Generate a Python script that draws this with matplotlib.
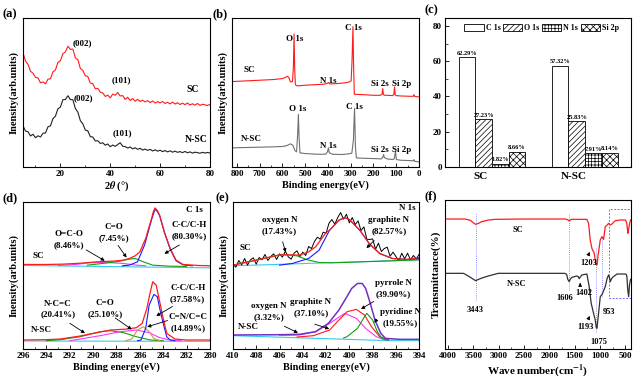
import numpy as np
import matplotlib.pyplot as plt
from matplotlib.patches import Rectangle, Patch

plt.rcParams['font.family'] = ['Liberation Serif', 'DejaVu Serif']
plt.rcParams['font.weight'] = 'bold'
plt.rcParams['axes.labelweight'] = 'bold'
plt.rcParams['mathtext.fontset'] = 'stix'
plt.rcParams['hatch.linewidth'] = 0.5
plt.rcParams['xtick.direction'] = 'in'
plt.rcParams['ytick.direction'] = 'in'
plt.rcParams['xtick.labelsize'] = 6.5
plt.rcParams['ytick.labelsize'] = 6.5
plt.rcParams['axes.linewidth'] = 0.8

# (a) XRD, 5..80 deg in 1 deg steps
xrd_sc = [76.5, 71.0, 68.8, 64.2, 62.9, 60.1, 59.8, 56.4, 57.1, 55.8,
          58.9, 59.2, 63.8, 65.1, 70.2, 71.3, 76.0, 77.2, 81.0, 78.9,
          79.1, 73.2, 72.0, 66.1, 64.8, 61.2, 60.7, 56.3, 55.9, 52.4,
          52.8, 50.2, 49.6, 47.3, 48.2, 46.4, 48.9, 48.1, 50.0, 47.6,
          47.9, 45.3, 46.8, 44.6, 45.9, 44.1, 45.4, 43.9, 44.8, 43.6,
          44.5, 43.2, 44.3, 42.9, 43.8, 43.0, 43.9, 42.6, 43.4, 42.3,
          43.5, 42.2, 43.1, 41.9, 42.8, 41.8, 42.9, 41.6, 42.4, 41.5,
          42.6, 41.3, 42.1, 41.7, 41.2, 42.0]
xrd_nsc = [27.5, 24.1, 23.6, 20.8, 21.9, 19.6, 20.9, 20.1, 22.6, 22.8,
           26.9, 27.6, 32.4, 34.1, 39.0, 40.2, 45.1, 45.3, 47.8, 45.2,
           45.1, 39.2, 36.8, 31.1, 28.9, 24.7, 24.2, 20.3, 20.1, 17.4,
           17.6, 15.8, 16.2, 14.6, 15.4, 13.6, 14.7, 13.8, 15.1, 16.2,
           13.9, 13.6, 12.7, 13.4, 12.1, 12.9, 11.8, 12.5, 11.3, 12.0,
           11.1, 11.8, 10.7, 11.5, 10.6, 11.2, 10.3, 11.0, 10.1, 10.8,
           9.9, 10.6, 9.8, 10.3, 9.6, 10.4, 9.5, 10.1, 9.3, 9.9,
           9.6, 9.2, 9.8, 9.3, 9.7, 9.4]
two_theta = np.arange(5, 5 + len(xrd_sc))

# (b) XPS survey
surv_sc_e = [822, 760, 700, 640, 600, 585, 578, 572, 565, 556, 552, 549, 546, 543, 535, 500,
             450, 420, 405, 398, 392, 360, 330, 318, 305, 298, 294, 290, 287, 284, 280, 250,
             200, 170, 162, 159, 156, 152, 140, 115, 110, 107, 104, 100, 80, 40, 25, 22, 19, 10, 0]
surv_sc_i = [255, 257, 259, 261, 264, 268, 271, 267, 254, 255, 297, 397, 287, 245, 242, 244,
             246, 247, 249, 252, 248, 249, 251, 252, 254, 257, 317, 419, 297, 217, 217, 216,
             214, 214, 217, 234, 217, 214, 214, 213, 217, 239, 215, 213, 212, 211, 211, 216, 211, 210, 209]
surv_nsc_e = [822, 760, 700, 640, 600, 580, 565, 555, 545, 538, 533, 530, 527, 523, 500, 450,
              410, 402, 398, 394, 380, 340, 310, 295, 288, 283, 279, 275, 250, 200, 165, 158,
              155, 152, 140, 115, 108, 103, 99, 80, 40, 25, 22, 19, 10, 0]
surv_nsc_i = [57, 58, 59, 60, 61, 64, 69, 65, 49, 45, 100, 157, 90, 42, 40, 38,
              38, 45, 57, 42, 38, 37, 39, 41, 80, 175, 60, 27, 26, 25, 24, 30,
              37, 28, 24, 22, 25, 47, 22, 20, 19, 18, 22, 17, 16, 15]

# (c) surface composition
samples = ['SC', 'N-SC']
elements = ['C 1s', 'O 1s', 'N 1s', 'Si 2p']
content = {'C 1s': [62.29, 57.32], 'O 1s': [27.23, 25.83],
           'N 1s': [1.82, 7.91], 'Si 2p': [8.66, 8.14]}

# (d) C 1s
c1s_sc_fit_e = [296, 294, 292.6, 291, 289.7, 288.3, 287.4, 286.9, 286.4, 286.0, 285.5, 285.0,
                284.85, 284.7, 284.5, 284.3, 283.9, 283.4, 282.9, 282.3, 281, 280]
c1s_sc_fit_i = [254, 254, 255, 258, 262, 264, 267, 272, 280, 292, 332, 392,
                412, 424, 416, 402, 352, 302, 267, 254, 251, 250]
c1s_sc_cc_e = [287.5, 286.9, 286.2, 285.6, 285.0, 284.7, 284.5, 284.3, 283.9, 283.4, 282.9, 282.3, 281.5]
c1s_sc_cc_i = [250, 252, 262, 312, 388, 420, 413, 400, 350, 300, 265, 253, 250]
c1s_sc_co_e = [290.5, 289.7, 288.0, 286.9, 286.4, 285.7, 284.9, 283.5, 282]
c1s_sc_co_i = [252, 255, 262, 270, 272, 262, 252, 249, 248]
c1s_sc_oco_e = [293, 291.5, 290.3, 288.8, 287.4, 286.3, 285.5]
c1s_sc_oco_i = [251, 254, 259, 260, 257, 252, 250]
c1s_sc_bg_e = [296, 280]
c1s_sc_bg_i = [251, 244]

c1s_nsc_fit_e = [296, 294, 292.8, 291.1, 290.0, 288.5, 287.1, 286.3, 285.8, 285.4, 285.1, 284.9,
                 284.6, 284.3, 284.0, 283.7, 283.0, 282, 280]
c1s_nsc_fit_i = [27, 28, 30, 39, 47, 57, 60, 64, 77, 122, 172, 202, 192, 142, 92, 47, 30, 27, 27]
c1s_nsc_cc_e = [286.2, 285.9, 285.5, 285.2, 284.8, 284.5, 284.3, 284.0, 283.7, 283.4, 283.0]
c1s_nsc_cc_i = [25, 27, 62, 132, 164, 157, 122, 77, 37, 27, 25]
c1s_nsc_cn_e = [287.2, 286.7, 286.2, 285.7, 285.2, 284.8, 284.3]
c1s_nsc_cn_i = [25, 30, 57, 67, 52, 32, 25]
c1s_nsc_co_e = [292, 291.1, 289.4, 287.7, 286.3, 285.2, 284.3, 283.4, 282.5]
c1s_nsc_co_i = [25, 30, 40, 52, 57, 49, 34, 27, 25]
c1s_nsc_ncc_e = [294, 292.8, 291.1, 289.4, 288.5, 287.4, 286.3, 285.1, 284]
c1s_nsc_ncc_i = [25, 28, 37, 52, 55, 49, 37, 27, 25]
c1s_nsc_bg_e = [296, 280]
c1s_nsc_bg_i = [24, 23]

# (e) N 1s, SC raw data 410..394 eV in 0.25 eV steps
n1s_sc_raw = [255, 246, 266, 253, 272, 252, 268, 274, 255, 275,
              268, 284, 266, 278, 286, 269, 286, 276, 294, 277,
              270, 288, 295, 277, 291, 281, 308, 302, 323, 336,
              330, 351, 348, 378, 389, 375, 395, 410, 390, 405,
              379, 395, 374, 385, 356, 367, 330, 329, 331, 300,
              318, 293, 302, 306, 279, 291, 278, 265, 288, 271,
              288, 268, 281, 271, 285]
n1s_raw_e = np.linspace(410, 394, len(n1s_sc_raw))
n1s_sc_fit_e = [410, 408, 406, 405, 404.3, 403.5, 402.9, 402, 401.7, 400.9, 400.4, 400.0,
                399.1, 398.3, 397.4, 396.3, 395.1, 394]
n1s_sc_fit_i = [252, 267, 283, 283, 282, 292, 307, 350, 357, 387, 395, 389,
                357, 317, 287, 272, 269, 275]
n1s_sc_gra_e = [406, 404.9, 403.5, 402.6, 401.7, 400.9, 400.4, 400.0, 399.1, 398.3, 397.4, 396.3, 395.1, 394]
n1s_sc_gra_i = [252, 257, 272, 297, 357, 387, 395, 389, 357, 317, 287, 272, 269, 272]
n1s_sc_oxy_e = [410, 408, 405.8, 404.5, 403.7, 402.6, 401.5, 398, 394]
n1s_sc_oxy_i = [252, 267, 284, 280, 269, 260, 259, 263, 268]
n1s_sc_bg_e = [410, 394]
n1s_sc_bg_i = [250, 268]

n1s_nsc_fit_e = [410, 406, 404.3, 402.9, 401.8, 400.9, 400.3, 399.8, 399.3, 398.9, 398.6,
                 398.2, 397.8, 397.3, 396.9, 395.7, 394]
n1s_nsc_fit_i = [42, 43, 44, 52, 77, 117, 152, 182, 197, 197, 182, 137, 87, 47, 32, 29, 29]
n1s_nsc_gra_e = [404.5, 403.1, 401.7, 400.9, 400.2, 399.4, 398.7, 398.1, 397.4, 396.6]
n1s_nsc_gra_i = [36, 40, 57, 87, 112, 119, 102, 67, 37, 27]
n1s_nsc_pyr_e = [406, 404.3, 402.9, 401.7, 400.4, 399.4, 398.6, 397.7, 396.9]
n1s_nsc_pyr_i = [41, 42, 52, 77, 107, 92, 62, 37, 27]
n1s_nsc_pyd_e = [400.5, 400.2, 399.3, 398.7, 398.5, 398.0, 397.6, 397.2, 396.7]
n1s_nsc_pyd_i = [33, 37, 62, 97, 107, 87, 52, 32, 26]
n1s_nsc_bg_e = [410, 396.6, 394]
n1s_nsc_bg_i = [40, 25, 25]

# (f) FTIR
ir_sc_w = [4066, 3670, 3560, 3505, 3459, 3400, 3340, 3200, 3076, 2500, 1690, 1640, 1610, 1580,
           1558, 1260, 1227, 1194, 1161, 1115, 1082, 1060, 1042, 996, 963, 953, 930, 897, 860,
           831, 798, 765, 699, 600, 501, 475, 455, 448, 435, 422, 400, 388]
ir_sc_t = [390, 390, 386, 379, 374, 377, 382, 387, 389, 390, 390, 388, 384, 388,
           389, 389, 377, 327, 302, 287, 255, 252, 277, 327, 337, 335, 329, 367, 372,
           377, 372, 375, 385, 387, 387, 380, 355, 347, 360, 372, 387, 388]
ir_nsc_w = [4066, 3700, 3670, 3560, 3459, 3350, 3208, 3010, 2500, 1700, 1660, 1637, 1610, 1585,
            1558, 1459, 1430, 1413, 1390, 1360, 1260, 1214, 1175, 1128, 1095, 1075, 1062, 1029,
            996, 970, 950, 897, 860, 831, 815, 798, 775, 752, 666, 500, 480, 468, 455, 435,
            420, 402, 388]
ir_nsc_t = [227, 227, 225, 215, 205, 212, 219, 227, 227, 227, 224, 209, 202, 210,
            215, 219, 217, 211, 216, 222, 225, 187, 137, 107, 87, 65, 62, 107,
            157, 162, 167, 187, 212, 222, 215, 202, 210, 215, 225, 225, 223, 215, 180, 157,
            190, 207, 210]
ir_marks = [3443, 1606, 1075, 953]
ir_mark_lo = [147, 177, 52, 157]
ir_mark_hi = [407, 407, 302, 337]

RED = '#ff1a1a'
BLUE = '#1a1aff'
GREEN = '#10a010'
MAG = '#ff33ff'
CYAN = '#33ccee'
OLIVE = '#b8a040'
PURPLE = '#7030c0'
ARW = dict(arrowstyle='-|>', lw=0.6, color='k', mutation_scale=5)
FS = 6.5

fig = plt.figure(figsize=(6.4, 3.82), dpi=100)


def box(rect, xlim, ylim):
    ax = fig.add_axes(rect)
    ax.set_xlim(*xlim)
    ax.set_ylim(*ylim)
    ax.tick_params(which='major', length=3, width=0.6, pad=2)
    ax.tick_params(which='minor', length=1.8, width=0.5)
    return ax


def arrow(ax, x0, y0, x1, y1):
    ax.annotate('', xy=(x1, y1), xytext=(x0, y0), arrowprops=ARW)


# ---- (a)
ax = box([0.036, 0.563, 0.292, 0.390], (5, 80), (0, 100))
ax.plot(two_theta, xrd_sc, color=RED, lw=0.8)
ax.plot(two_theta, xrd_nsc, color='#202020', lw=0.8)
ax.set_xticks([20, 40, 60, 80])
ax.set_xticks([10, 30, 50, 70], minor=True)
ax.set_yticks([])
ax.set_ylabel('Inensity(arb.units)', fontsize=7.5, labelpad=3)
ax.set_xlabel(r'2$\theta$ (°)', fontsize=7.5, labelpad=1)
ax.text(25, 82, '(002)', fontsize=FS)
ax.text(44.5, 57, '(101)', fontsize=FS, ha='center')
ax.text(73, 50, 'SC', fontsize=FS + 0.5, ha='center')
ax.text(25.5, 45, '(002)', fontsize=FS)
ax.text(45, 21, '(101)', fontsize=FS, ha='center')
ax.text(74.5, 17, 'N-SC', fontsize=FS + 0.5, ha='center')
fig.text(0.004, 0.955, '(a)', fontsize=9)

# ---- (b)
ax = box([0.3625, 0.563, 0.292, 0.390], (822, 0), (0, 445))
ax.plot(surv_sc_e, surv_sc_i, color=RED, lw=0.8)
ax.plot(surv_nsc_e, surv_nsc_i, color='#707070', lw=0.8)
ax.set_xticks(range(800, -1, -100))
ax.set_xticks(range(750, 0, -100), minor=True)
ax.set_yticks([])
ax.set_ylabel('Inensity(arb.units)', fontsize=7.5, labelpad=3)
ax.set_xlabel('Binding energy(eV)', fontsize=7.5, labelpad=2)
for s, x, y in [('O 1s', 545, 383), ('C 1s', 287, 415), ('SC', 744, 290), ('N 1s', 398, 258),
                ('Si 2s', 173, 248), ('Si 2p', 74, 248), ('O 1s', 535, 172), ('C 1s', 285, 180),
                ('N-SC', 737, 82), ('N 1s', 398, 62), ('Si 2s', 173, 50), ('Si 2p', 74, 50)]:
    ax.text(x, y, s, fontsize=FS, ha='center', va='center')
fig.text(0.332, 0.955, '(b)', fontsize=9)

# ---- (c)
ax = box([0.695, 0.563, 0.291, 0.390], (-0.387, 1.613), (0, 84.5))
hatches = ['', '//////', '+++++', 'xxxxx']
w = 0.178
legend_handles = []
for k, el in enumerate(elements):
    xs = np.arange(len(samples)) + (k - 0.83) * w
    bars = ax.bar(xs, content[el], w, color='white', edgecolor='k', hatch=hatches[k], lw=0.6)
    ax.bar_label(bars, labels=['%.2f%%' % v for v in content[el]], fontsize=4.6, padding=1)
    legend_handles.append(Patch(facecolor='white', edgecolor='k', hatch=hatches[k], lw=0.6, label=el))
ax.set_xticks([0, 1])
ax.set_xticklabels(samples, fontsize=8)
ax.tick_params(axis='x', length=0, pad=4)
ax.set_yticks([0, 20, 40, 60, 80])
ax.set_yticks([10, 30, 50, 70], minor=True)
ax.legend(handles=legend_handles, ncol=4, loc='upper center', bbox_to_anchor=(0.52, 0.995),
          frameon=False, fontsize=5.8, handlelength=2.4, handleheight=1.1,
          columnspacing=0.3, handletextpad=0.25, borderaxespad=0.2)
fig.text(0.664, 0.965, '(c)', fontsize=9)

# ---- (d)
ax = box([0.036, 0.0864, 0.292, 0.385], (296, 280), (0, 442))
ax.plot(c1s_sc_bg_e, c1s_sc_bg_i, color=CYAN, lw=0.8)
ax.plot(c1s_sc_oco_e, c1s_sc_oco_i, color=MAG, lw=0.8)
ax.plot(c1s_sc_co_e, c1s_sc_co_i, color=GREEN, lw=0.8)
ax.plot(c1s_sc_cc_e, c1s_sc_cc_i, color=BLUE, lw=0.8)
ax.plot(c1s_sc_fit_e, c1s_sc_fit_i, color=RED, lw=0.9)
ax.plot(c1s_nsc_bg_e, c1s_nsc_bg_i, color=CYAN, lw=0.8)
ax.plot(c1s_nsc_ncc_e, c1s_nsc_ncc_i, color=GREEN, lw=0.8)
ax.plot(c1s_nsc_co_e, c1s_nsc_co_i, color=MAG, lw=0.8)
ax.plot(c1s_nsc_cn_e, c1s_nsc_cn_i, color=OLIVE, lw=0.8)
ax.plot(c1s_nsc_cc_e, c1s_nsc_cc_i, color=BLUE, lw=0.8)
ax.plot(c1s_nsc_fit_e, c1s_nsc_fit_i, color=RED, lw=0.9)
ax.set_xticks(range(296, 279, -2))
ax.set_xticks(np.arange(295, 280, -2), minor=True)
ax.set_yticks([])
ax.set_ylabel('Inensity(arb.units)', fontsize=7.5, labelpad=3)
ax.set_xlabel('Binding energy(eV)', fontsize=7.5, labelpad=2)
for s, x, y in [('C 1s', 281.3, 417), ('O=C-O\n(8.46%)', 292.1, 330), ('C=O\n(7.45%)', 288.2, 350),
                ('C-C/C-H\n(80.30%)', 281.8, 356), ('N-C=C\n(20.41%)', 293.0, 120),
                ('C=O\n(25.10%)', 289.0, 122), ('C-C/C-H\n(37.58%)', 281.9, 167),
                ('C=N/C=C\n(14.89%)', 281.9, 80)]:
    ax.text(x, y, s, fontsize=FS, ha='center', va='center', linespacing=1.5)
ax.text(295.2, 280, 'SC', fontsize=FS, va='center')
ax.text(295.3, 57, 'N-SC', fontsize=FS, va='center')
arrow(ax, 290.8, 302, 288.8, 261)
arrow(ax, 288.0, 318, 287.0, 268)
arrow(ax, 282.4, 317, 284.1, 282)
arrow(ax, 292.2, 82, 290.5, 43)
arrow(ax, 288.3, 98, 286.5, 54)
arrow(ax, 283.0, 132, 284.8, 95)
arrow(ax, 283.4, 88, 285.6, 64)
fig.text(0.004, 0.472, '(d)', fontsize=9)

# ---- (e)
ax = box([0.364, 0.0864, 0.291, 0.385], (410, 394), (0, 442))
ax.plot(n1s_sc_bg_e, n1s_sc_bg_i, color=CYAN, lw=0.8)
ax.plot(n1s_raw_e, n1s_sc_raw, color='k', lw=0.7)
ax.plot(n1s_sc_oxy_e, n1s_sc_oxy_i, color=GREEN, lw=0.8)
ax.plot(n1s_sc_gra_e, n1s_sc_gra_i, color=BLUE, lw=0.8)
ax.plot(n1s_sc_fit_e, n1s_sc_fit_i, color=RED, lw=0.9)
ax.plot(n1s_nsc_bg_e, n1s_nsc_bg_i, color=CYAN, lw=0.8)
ax.plot(n1s_nsc_pyr_e, n1s_nsc_pyr_i, color=MAG, lw=0.8)
ax.plot(n1s_nsc_gra_e, n1s_nsc_gra_i, color=RED, lw=0.8)
ax.plot(n1s_nsc_pyd_e, n1s_nsc_pyd_i, color=GREEN, lw=0.8)
ax.plot(n1s_nsc_fit_e, n1s_nsc_fit_i, color=PURPLE, lw=1.1)
ax.set_xticks(range(410, 393, -2))
ax.set_xticks(np.arange(409, 394, -2), minor=True)
ax.set_yticks([])
ax.set_ylabel('Inensity(arb.units)', fontsize=7.5, labelpad=3)
ax.set_xlabel('Binding energy(eV)', fontsize=7.5, labelpad=2)
for s, x, y in [('N 1s', 395.0, 425), ('oxygen N\n(17.43%)', 406.0, 372),
                ('graphite N\n(82.57%)', 396.6, 370), ('oxygen N\n(3.32%)', 406.9, 112),
                ('graphite N\n(37.10%)', 403.3, 125), ('pyrrole N\n(39.90%)', 396.2, 181),
                ('pyridine N\n(19.55%)', 395.6, 95)]:
    ax.text(x, y, s, fontsize=FS, ha='center', va='center', linespacing=1.5)
ax.text(409.4, 304, 'SC', fontsize=FS, va='center')
ax.text(409.6, 67, 'N-SC', fontsize=FS, va='center')
arrow(ax, 405.8, 330, 405.4, 283)
arrow(ax, 397.7, 332, 398.7, 297)
arrow(ax, 405.8, 72, 404.2, 45)
arrow(ax, 403.2, 77, 401.5, 58)
arrow(ax, 397.7, 147, 399.2, 116)
arrow(ax, 397.5, 95, 398.0, 72)
fig.text(0.337, 0.472, '(e)', fontsize=9)

# ---- (f)
ax = box([0.695, 0.0864, 0.291, 0.390], (4066, 388), (0, 447))
for wv, lo, hi in zip(ir_marks, ir_mark_lo, ir_mark_hi):
    ax.plot([wv, wv], [lo, hi], color='#7070ff', lw=0.6, ls=(0, (1, 1.5)))
ax.add_patch(Rectangle((396, 152), 434, 267, fill=False, ec='#7070ff', lw=0.7, ls=(0, (2, 1.5))))
ax.plot(ir_sc_w, ir_sc_t, color=RED, lw=0.9)
ax.plot(ir_nsc_w, ir_nsc_t, color='#303030', lw=0.9)
ax.set_xticks(range(4000, 499, -500))
ax.set_xticks(range(3750, 400, -500), minor=True)
ax.set_yticks([])
ax.set_ylabel('Transmittance(%)', fontsize=8, labelpad=3)
ax.set_xlabel(r'Wave number(cm$^{\mathbf{-1}}$)', fontsize=8, labelpad=2)
for s, x, y in [('SC', 2613, 357), ('N-SC', 2646, 194), ('3443', 3459, 117), ('1606', 1690, 152),
                ('1402', 1320, 167), ('1203', 1214, 259), ('1193', 1293, 67), ('1075', 1029, 22),
                ('953', 818, 112)]:
    ax.text(x, y, s, fontsize=6, ha='center', va='center')
arrow(ax, 1240, 279, 1181, 299)
arrow(ax, 1393, 185, 1393, 207)
arrow(ax, 1240, 87, 1181, 107)
fig.text(0.664, 0.478, '(f)', fontsize=9)

fig.savefig('out.png', dpi=100)
